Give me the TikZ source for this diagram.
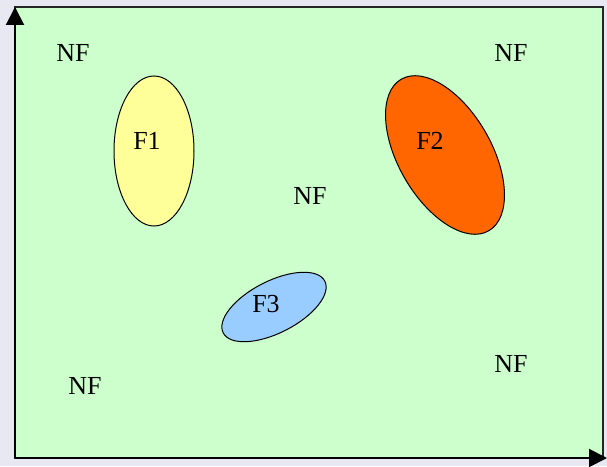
\documentclass[tikz,border=0pt]{standalone}
\usepackage{fontspec}
\setmainfont{Liberation Serif}
\usetikzlibrary{arrows.meta}
\definecolor{pagebg}{HTML}{E8E8F2}
\definecolor{fieldgreen}{HTML}{CCFFCC}
\definecolor{zoneyellow}{HTML}{FFFF99}
\definecolor{zoneorange}{HTML}{FF6600}
\definecolor{zoneblue}{HTML}{99CCFF}
\tikzset{>={Triangle[length=18pt,width=18pt]}}

\begin{document}
\begin{tikzpicture}[
  x=1pt, y=1pt,
  zone/.style={draw=black, line width=1pt},
  labeltext/.style={font=\fontsize{26}{30}\selectfont, inner sep=0pt},
  axis/.style={->, line width=2pt, black}
]
\useasboundingbox (0,0) rectangle (607,466);
\fill[pagebg] (0,0) rectangle (607,466);

% field
\filldraw[fill=fieldgreen, draw=black!85, line width=1.3pt] (15,8) rectangle (603,459);

% zones
\draw[zone, fill=zoneyellow] (154,315) ellipse (40 and 75);
\draw[zone, fill=zoneorange, rotate around={-60:(445,311)}] (445,311) ellipse (87.5 and 46.5);
\draw[zone, fill=zoneblue, rotate around={27:(274,159)}] (274,159) ellipse (57 and 26);

% axes
\coordinate (origin) at (15,8);
\coordinate (ytip) at (15,459);
\coordinate (xtip) at (607,8);
\draw[axis] (origin) -- (ytip);
\draw[axis] (origin) -- (xtip);

% labels
\node[labeltext] (nf1) at (73,413) {NF};
\node[labeltext] (nf2) at (511,413) {NF};
\node[labeltext] (f1) at (147,325) {F1};
\node[labeltext] (f2) at (430,325) {F2};
\node[labeltext] (nf3) at (310,270) {NF};
\node[labeltext] (f3) at (266,162) {F3};
\node[labeltext] (nf4) at (85,80) {NF};
\node[labeltext] (nf5) at (511,102) {NF};
\end{tikzpicture}
\end{document}
